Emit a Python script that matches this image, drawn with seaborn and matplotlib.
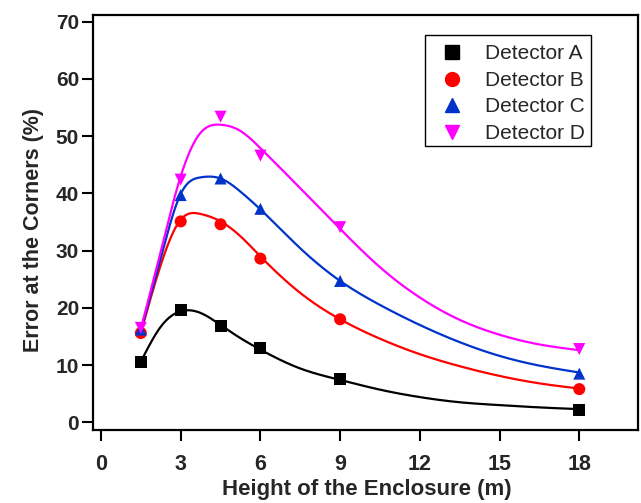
import numpy as np
import pandas as pd
import matplotlib
matplotlib.use("Agg")
import matplotlib.pyplot as plt
from matplotlib.lines import Line2D
from matplotlib.patches import Rectangle
import seaborn as sns

heights = [1.5, 3, 4.5, 6, 9, 18]
detector_a = [10.5, 19.6, 16.9, 12.9, 7.5, 2.2]
detector_b = [15.6, 35.1, 34.6, 28.6, 18.0, 5.8]
detector_c = [16.2, 39.7, 42.6, 37.3, 24.7, 8.5]
detector_d = [16.5, 42.4, 53.4, 46.6, 34.1, 12.8]

# ---- smooth fitted curves ----
fit_x = [1.5, 2.25, 3, 3.75, 4.5, 5.25, 6, 7.5, 9, 10.5, 12, 13.5, 15, 16.5, 18]
fit_a = [10.6, 16.7, 19.4, 19.1, 17.0, 14.7, 12.7, 9.4, 7.4, 5.7, 4.4, 3.5, 3.0, 2.6, 2.3]
fit_b = [15.6, 27.5, 35.4, 36.4, 35.1, 32.5, 29.0, 22.6, 18.0, 14.6, 11.9, 9.8, 8.1, 6.8, 5.9]
fit_c = [16.0, 28.7, 39.9, 42.8, 42.6, 40.3, 37.2, 30.4, 24.7, 20.5, 17.0, 14.0, 11.6, 9.9, 8.7]
fit_d = [16.3, 29.9, 43.0, 50.6, 52.0, 50.9, 47.9, 40.9, 33.8, 27.1, 21.8, 17.9, 15.3, 13.6, 12.6]

names = ["Detector A", "Detector B", "Detector C", "Detector D"]
colors = ["#000000", "#FF0000", "#0033CC", "#FF00FF"]
markers = ["s", "o", "^", "v"]
x_ticks = [0, 3, 6, 9, 12, 15, 18]
y_ticks = [0, 10, 20, 30, 40, 50, 60, 70]

series = [detector_a, detector_b, detector_c, detector_d]
fits = [fit_a, fit_b, fit_c, fit_d]


def natural_spline(xk, yk, xs):
    xk = np.asarray(xk, float)
    yk = np.asarray(yk, float)
    n = len(xk)
    h = np.diff(xk)
    A = np.zeros((n, n))
    r = np.zeros(n)
    A[0, 0] = 1
    A[-1, -1] = 1
    for i in range(1, n - 1):
        A[i, i - 1] = h[i - 1]
        A[i, i] = 2 * (h[i - 1] + h[i])
        A[i, i + 1] = h[i]
        r[i] = 6 * ((yk[i + 1] - yk[i]) / h[i] - (yk[i] - yk[i - 1]) / h[i - 1])
    M = np.linalg.solve(A, r)
    out = np.empty_like(xs)
    for j, x in enumerate(xs):
        i = min(max(np.searchsorted(xk, x) - 1, 0), n - 2)
        t0 = xk[i + 1] - x
        t1 = x - xk[i]
        out[j] = (M[i] * t0 ** 3 / (6 * h[i]) + M[i + 1] * t1 ** 3 / (6 * h[i])
                  + (yk[i] / h[i] - M[i] * h[i] / 6) * t0
                  + (yk[i + 1] / h[i] - M[i + 1] * h[i] / 6) * t1)
    return out


pts = pd.DataFrame({
    "x": np.tile(heights, 4),
    "y": np.concatenate(series),
    "det": np.repeat(names, len(heights)),
})

xs = np.linspace(min(fit_x), max(fit_x), 500)
curve_rows = []
for nm, fy in zip(names, fits):
    yy = natural_spline(fit_x, fy, xs)
    curve_rows.append(pd.DataFrame({"x": xs, "y": yy, "det": nm}))
curves = pd.concat(curve_rows, ignore_index=True)

sns.set_theme(style="white")
plt.rcParams["font.family"] = ["Liberation Sans", "DejaVu Sans"]

fig = plt.figure(figsize=(6.41, 5.03), dpi=100)
ax = fig.add_axes([0.1451, 0.1451, 0.8502, 0.8251])

pal = dict(zip(names, colors))
sns.lineplot(data=curves, x="x", y="y", hue="det", palette=pal, ax=ax,
             linewidth=1.6, legend=False, estimator=None, sort=False)
sns.scatterplot(data=pts, x="x", y="y", hue="det", style="det", palette=pal,
                markers=dict(zip(names, markers)), s=75, edgecolor="none",
                ax=ax, legend=False, zorder=5)

ax.set_xlim(-0.30, 20.21)
ax.set_ylim(-1.35, 71.17)
ax.set_xticks(x_ticks)
ax.set_yticks(y_ticks)
ax.set_xticklabels([str(t) for t in x_ticks], fontsize=15.5, fontweight="bold")
ax.set_yticklabels([str(t) for t in y_ticks], fontsize=15, fontweight="bold")
ax.tick_params(axis="both", direction="out", length=8, width=1.5,
               color="black", left=True, bottom=True)
ax.tick_params(axis="y", pad=2)
ax.tick_params(axis="x", pad=9)
for sp in ax.spines.values():
    sp.set_visible(True)
    sp.set_color("black")
    sp.set_linewidth(1.6)

ax.set_xlabel("Height of the Enclosure (m)", fontsize=16, fontweight="bold")
ax.set_ylabel("Error at the Corners (%)", fontsize=15.5, fontweight="bold")
ax.xaxis.set_label_coords(0.502, -0.118)
ax.yaxis.set_label_coords(-0.09, 0.482)

handles = [Line2D([], [], linestyle="none", marker=m, color=c, markersize=10)
           for m, c in zip(markers, colors)]
leg = ax.legend(handles, names, loc="upper left",
                bbox_to_anchor=(0.6275, 0.929), fontsize=15, frameon=False,
                handletextpad=0.8, labelspacing=0.36, borderpad=0,
                handlelength=1.6, borderaxespad=0)
ax.add_patch(Rectangle((0.609, 0.684), 0.305, 0.268, transform=ax.transAxes,
                       fill=False, edgecolor="black", linewidth=1.0,
                       zorder=6, clip_on=False))

fig.savefig("out.png", dpi=100)
